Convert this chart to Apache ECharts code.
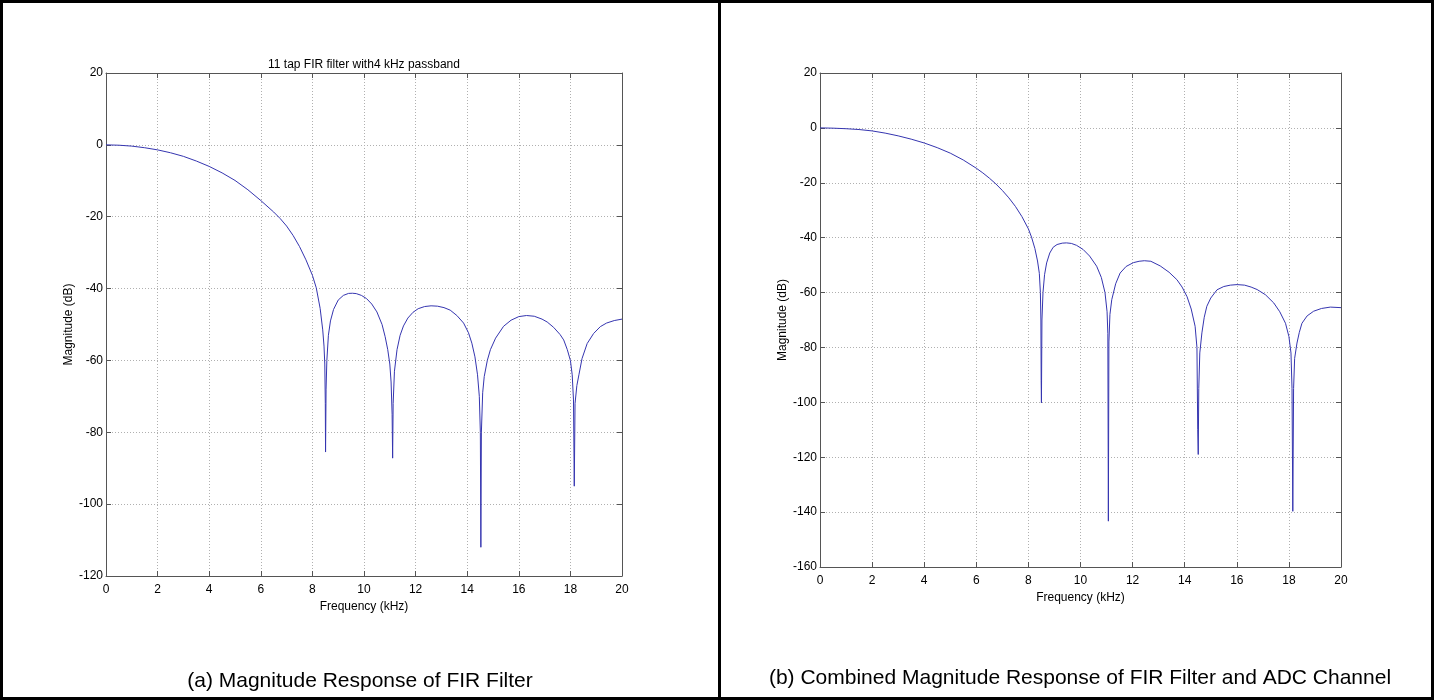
<!DOCTYPE html>
<html>
<head>
<meta charset="utf-8">
<script src="https://cdn.jsdelivr.net/npm/echarts@6/dist/echarts.min.js"></script>
<style>
html,body{margin:0;padding:0;background:#fff;}
#c{width:1434px;height:700px;}
</style>
</head>
<body>
<div id="c"></div>
<script>
// ---- data ----
const titleA = '11 tap FIR filter with4 kHz passband';
const captionA = '(a) Magnitude Response of FIR Filter';
const captionB = '(b) Combined Magnitude Response of FIR Filter and ADC Channel';
const xName = 'Frequency (kHz)';
const yName = 'Magnitude (dB)';

// (a) FIR filter alone
const freqA = [0,0.5,1,1.5,2,2.5,3,3.5,4,4.5,5,5.5,6,6.5,6.75,7,7.25,7.5,7.75,8,8.15,8.3,8.4,8.45,8.48,8.5,8.51,8.53,8.56,8.62,8.7,8.82,9.0,9.2,9.4,9.55,9.7,9.9,10.1,10.3,10.5,10.7,10.82,10.92,11.0,11.05,11.09,11.11,11.13,11.18,11.28,11.4,11.53,11.7,11.9,12.1,12.35,12.6,12.85,13.1,13.34,13.6,13.86,14.05,14.18,14.3,14.4,14.47,14.51,14.53,14.55,14.6,14.66,14.78,14.9,15.1,15.41,15.7,16.0,16.3,16.6,16.9,17.1,17.35,17.6,17.74,17.88,18.0,18.07,18.12,18.15,18.18,18.25,18.33,18.45,18.65,18.9,19.16,19.4,19.7,20];
const magA  = [0,-0.1,-0.35,-0.8,-1.4,-2.2,-3.2,-4.5,-6.0,-7.8,-9.9,-12.5,-15.5,-18.7,-20.5,-22.6,-25.2,-28.3,-32,-36.3,-39.8,-45.5,-51.5,-56,-61,-72,-85.5,-68,-60,-53,-49,-45.8,-43.2,-41.9,-41.35,-41.3,-41.4,-41.9,-42.8,-44.3,-46.5,-50,-53.4,-57,-61,-66,-75,-87.2,-72,-63,-57,-53,-50.4,-48.2,-46.6,-45.6,-45,-44.8,-44.9,-45.3,-46,-47.5,-49.6,-52.3,-55.2,-59,-64,-70,-80,-112,-80,-69,-64.5,-60,-57,-53.8,-50.5,-48.8,-47.8,-47.5,-47.7,-48.5,-49.3,-50.8,-52.8,-54.3,-57,-60,-64,-71,-95,-72,-67,-64,-59.5,-55.3,-52.5,-50.6,-49.6,-48.9,-48.5];

// (b) FIR filter combined with ADC channel
const freqB = [0,0.5,1,1.5,2,2.5,3,3.5,4,4.5,5,5.5,6,6.25,6.5,6.75,7,7.25,7.5,7.75,8,8.12,8.25,8.35,8.42,8.46,8.48,8.49,8.5,8.52,8.56,8.62,8.7,8.82,8.95,9.1,9.3,9.46,9.65,9.85,10.1,10.35,10.62,10.8,10.94,11.02,11.05,11.07,11.09,11.13,11.2,11.35,11.52,11.75,12.03,12.25,12.45,12.7,13.06,13.4,13.7,13.9,14.09,14.25,14.4,14.47,14.5,14.52,14.54,14.58,14.66,14.75,14.85,15.0,15.24,15.5,15.75,16.01,16.3,16.55,16.78,17.1,17.42,17.65,17.87,18.0,18.08,18.12,18.15,18.18,18.22,18.31,18.4,18.5,18.7,18.95,19.25,19.59,20];
const magB  = [0,-0.1,-0.3,-0.6,-1.1,-1.9,-2.9,-4.1,-5.5,-7.2,-9.2,-11.7,-14.7,-16.4,-18.3,-20.4,-22.8,-25.5,-28.6,-32.3,-36.8,-39.8,-44,-48.5,-53,-60,-70,-92,-100.2,-70,-60,-53.5,-49.2,-45.6,-43.5,-42.5,-42,-41.9,-42.1,-42.8,-44.3,-46.7,-50.4,-54.5,-60,-67,-75,-143.3,-78,-68,-62.6,-56.8,-52.9,-50.5,-49.1,-48.6,-48.4,-48.6,-50.3,-52.6,-55.3,-58,-61.5,-66,-72.3,-80,-110,-119,-95,-82,-74.7,-69,-65,-62,-59,-57.8,-57.3,-57.1,-57.3,-58,-58.9,-60.8,-63.8,-67,-71.2,-76,-82,-95,-139.7,-95,-84,-78.4,-74.5,-71.2,-68.5,-66.8,-65.8,-65.3,-65.5];

const xMin = 0, xMax = 20, xStep = 2;
const yMinA = -120, yMaxA = 20, yMinB = -160, yMaxB = 20, yStep = 20;

// ---- chart ----
const FONT = '"Liberation Sans", Arial, Helvetica, sans-serif';
const AX = '#555';
const zip = (xs, ys) => xs.map((x, i) => [x, ys[i]]);

function xAxisMain(g) {
  return {
    type: 'value', gridIndex: g, min: xMin, max: xMax, interval: xStep, position: 'bottom',
    name: xName, nameLocation: 'middle', nameGap: 25,
    nameTextStyle: {color: '#000', fontSize: 12, fontFamily: FONT},
    axisLine: {show: true, onZero: false, lineStyle: {color: AX, width: 1}},
    axisTick: {show: true, inside: true, length: 5, lineStyle: {color: AX}},
    axisLabel: {color: '#000', fontSize: 12, fontFamily: FONT, margin: 8},
    splitLine: {show: true, lineStyle: {color: '#b0b0b0', type: [1, 2], width: 1}}
  };
}
function xAxisTop(g) {
  return {
    type: 'value', gridIndex: g, min: xMin, max: xMax, interval: xStep, position: 'top',
    axisLine: {show: true, onZero: false, lineStyle: {color: AX, width: 1}},
    axisTick: {show: true, inside: true, length: 5, lineStyle: {color: AX}},
    axisLabel: {show: false}, splitLine: {show: false}
  };
}
function yAxisMain(g, mn, mx, gap) {
  return {
    type: 'value', gridIndex: g, min: mn, max: mx, interval: yStep, position: 'left',
    name: yName, nameLocation: 'middle', nameGap: gap,
    nameTextStyle: {color: '#000', fontSize: 12, fontFamily: FONT},
    axisLine: {show: true, onZero: false, lineStyle: {color: AX, width: 1}},
    axisTick: {show: true, inside: true, length: 5, lineStyle: {color: AX}},
    axisLabel: {color: '#000', fontSize: 12, fontFamily: FONT, margin: 3},
    splitLine: {show: true, lineStyle: {color: '#b0b0b0', type: [1, 2], width: 1}}
  };
}
function yAxisRight(g, mn, mx) {
  return {
    type: 'value', gridIndex: g, min: mn, max: mx, interval: yStep, position: 'right',
    axisLine: {show: true, onZero: false, lineStyle: {color: AX, width: 1}},
    axisTick: {show: true, inside: true, length: 5, lineStyle: {color: AX}},
    axisLabel: {show: false}, splitLine: {show: false}
  };
}

const chart = echarts.init(document.getElementById('c'), null, {renderer: 'canvas'});
chart.setOption({
  backgroundColor: '#fff',
  animation: false,
  grid: [
    {left: 106, top: 73, width: 516, height: 503, containLabel: false},
    {left: 820, top: 73, width: 521, height: 494, containLabel: false}
  ],
  xAxis: [xAxisMain(0), xAxisTop(0), xAxisMain(1), xAxisTop(1)],
  yAxis: [yAxisMain(0, yMinA, yMaxA, 22), yAxisRight(0, yMinA, yMaxA),
          yAxisMain(1, yMinB, yMaxB, 21), yAxisRight(1, yMinB, yMaxB)],
  series: [
    {type: 'line', xAxisIndex: 0, yAxisIndex: 0, data: zip(freqA, magA), showSymbol: false,
     symbol: 'none', lineStyle: {color: '#3535b0', width: 1}, itemStyle: {color: '#3535b0'}},
    {type: 'line', xAxisIndex: 2, yAxisIndex: 2, data: zip(freqB, magB), showSymbol: false,
     symbol: 'none', lineStyle: {color: '#3535b0', width: 1}, itemStyle: {color: '#3535b0'}}
  ],
  graphic: [
    {type: 'text', x: 364, y: 65, style: {text: titleA, font: '12px ' + FONT, fill: '#000',
      textAlign: 'center', textVerticalAlign: 'middle', align: 'center', verticalAlign: 'middle'}},
    {type: 'text', x: 360, y: 681, style: {text: captionA, font: '21px ' + FONT, fill: '#000',
      textAlign: 'center', textVerticalAlign: 'middle', align: 'center', verticalAlign: 'middle'}},
    {type: 'text', x: 1080, y: 678, style: {text: captionB, font: '21px ' + FONT, fill: '#000',
      textAlign: 'center', textVerticalAlign: 'middle', align: 'center', verticalAlign: 'middle'}},
    {type: 'rect', shape: {x: 1.5, y: 1.5, width: 1431, height: 697},
      style: {fill: 'none', stroke: '#000', lineWidth: 3}},
    {type: 'line', shape: {x1: 719.5, y1: 0, x2: 719.5, y2: 700},
      style: {stroke: '#000', lineWidth: 3}}
  ]
});
</script>
</body>
</html>
